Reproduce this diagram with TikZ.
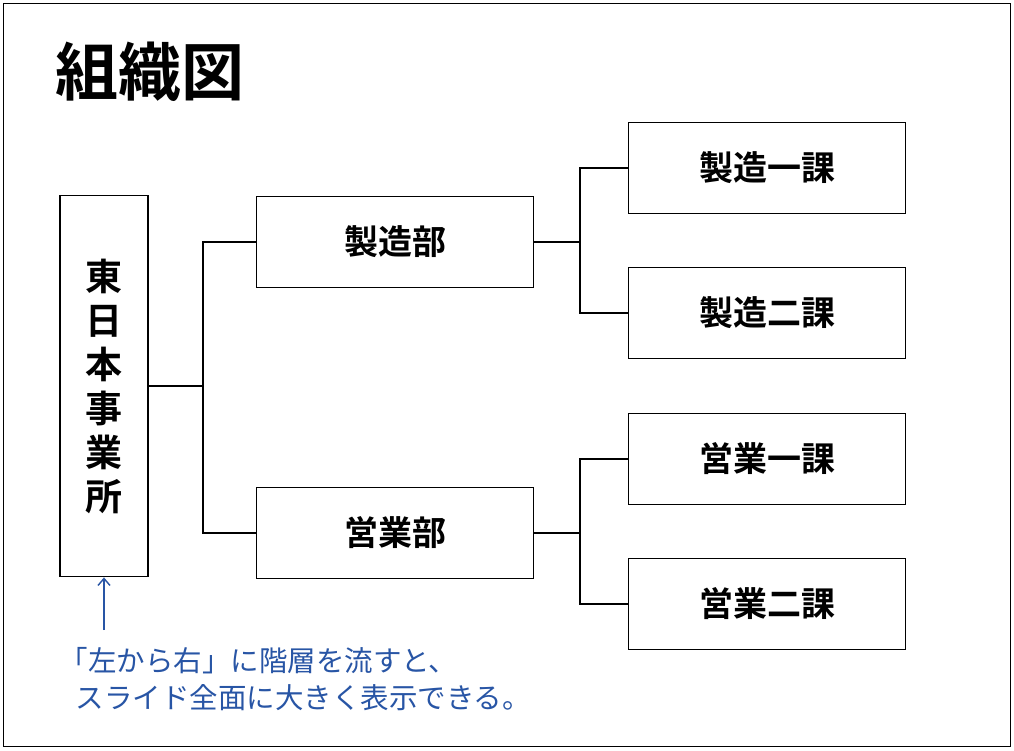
\documentclass[tikz,border=0pt]{standalone}
\usepackage{fontspec}
\usetikzlibrary{arrows.meta}
\newfontfamily\cjk{Noto Sans CJK JP}
\newfontfamily\cjkb{Noto Sans CJK JP Bold}
\definecolor{notecol}{RGB}{40,85,165}
\begin{document}
\begin{tikzpicture}[x=1pt,y=-1pt]
\tikzset{unitbox/.style={draw,line width=1.8pt,minimum width=277pt,minimum height=91pt,font=\cjkb\fontsize{34}{34}\selectfont},
  link/.style={line width=1.3pt}}
%frame
\draw[line width=1pt] (3,3) rectangle (1010,746);
\useasboundingbox (0,0) rectangle (1014,750);
%title
\node[anchor=west,font=\cjkb\fontsize{63}{63}\selectfont] (title) at (52,72) {組織図};
%root
\node[draw,line width=1.8pt,minimum width=88pt,minimum height=381pt,align=center,
  font=\cjkb\fontsize{37}{44}\selectfont] (root) at (104,386) {東\\日\\本\\事\\業\\所};
%departments
\node[unitbox] (mfg) at (395,242) {製造部};
\node[unitbox] (sales) at (395,533) {営業部};
%sections
\node[unitbox] (mfg1) at (767,168) {製造一課};
\node[unitbox] (mfg2) at (767,313) {製造二課};
\node[unitbox] (sales1) at (767,459) {営業一課};
\node[unitbox] (sales2) at (767,604) {営業二課};
%connectors
\coordinate (j0) at (203,386);
\coordinate (j1) at (580,242);
\coordinate (j2) at (580,533);
\draw[link] (root.east) -- (j0);
\draw[link] (mfg.west) -| (j0) |- (sales.west);
\draw[link] (mfg.east) -- (j1);
\draw[link] (mfg1.west) -| (j1) |- (mfg2.west);
\draw[link] (sales.east) -- (j2);
\draw[link] (sales1.west) -| (j2) |- (sales2.west);
%note
\coordinate (tail) at (104,630);
\draw[notecol,line width=1.4pt,-{Straight Barb[length=7pt,width=12pt]}] (tail) -- (root.south);
\node[anchor=west,text=notecol,font=\cjk\fontsize{28.5}{28.5}\selectfont] (note1) at (56,661) {「左から右」に階層を流すと、};
\node[anchor=west,text=notecol,font=\cjk\fontsize{28.5}{28.5}\selectfont] (note2) at (72,698) {スライド全面に大きく表示できる。};
\end{tikzpicture}
\end{document}
